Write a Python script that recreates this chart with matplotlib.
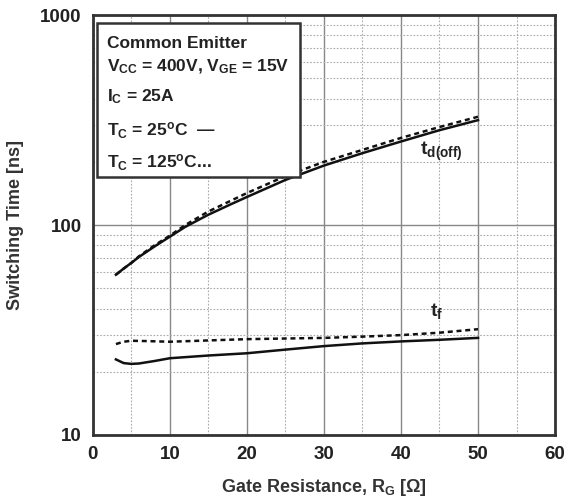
## Switching time vs gate resistance

import matplotlib.pyplot as plt
from matplotlib.patches import Rectangle
from matplotlib.ticker import MultipleLocator, LogLocator, NullFormatter
import numpy as np

plt.rcParams['font.family'] = ['Liberation Sans', 'DejaVu Sans']
plt.rcParams['font.weight'] = 'bold'
plt.rcParams['mathtext.fontset'] = 'custom'
plt.rcParams['mathtext.rm'] = 'Liberation Sans:bold'
plt.rcParams['mathtext.bf'] = 'Liberation Sans:bold'
plt.rcParams['mathtext.default'] = 'rm'

## data
rg_d      = [3, 4, 5, 6, 8, 10, 12, 15, 18, 20, 25, 30, 35, 40, 45, 50]
td_25     = [58, 62, 66, 70.5, 79, 88, 98, 112, 126, 136, 164, 192, 220, 250, 283, 316]
td_125    = [58, 62, 66, 71, 80, 89, 100, 116, 131, 142, 171, 200, 228, 260, 293, 328]
rg_f25    = [3, 4, 5, 6, 8, 10, 15, 20, 25, 30, 35, 40, 45, 50]
tf_25     = [22.9, 22.0, 21.8, 21.9, 22.5, 23.2, 23.9, 24.5, 25.5, 26.5, 27.3, 27.9, 28.4, 29.0]
rg_f125   = [3, 4, 5, 7, 10, 15, 20, 25, 30, 35, 40, 45, 50]
tf_125    = [27.1, 27.8, 28.1, 28.0, 27.8, 28.2, 28.6, 28.8, 29.0, 29.4, 29.9, 30.7, 31.9]

fig = plt.figure(figsize=(5.8, 5.04), dpi=100)
ax = fig.add_axes([0.160, 0.137, 0.797, 0.833])

ax.plot(rg_d, td_25, color='#111111', lw=1.8)
ax.plot(rg_d, td_125, color='#111111', lw=1.8, dashes=(2, 1.5))
ax.plot(rg_f25, tf_25, color='#111111', lw=1.8)
ax.plot(rg_f125, tf_125, color='#111111', lw=1.8, dashes=(2, 1.5))

ax.set_yscale('log')
ax.set_xlim(0, 60)
ax.set_ylim(10, 1000)
ax.xaxis.set_major_locator(MultipleLocator(10))
ax.xaxis.set_minor_locator(MultipleLocator(5))
ax.yaxis.set_major_locator(LogLocator(base=10))
ax.yaxis.set_minor_locator(LogLocator(base=10, subs=np.arange(2, 10)))
ax.yaxis.set_minor_formatter(NullFormatter())
ax.set_yticks([10, 100, 1000], ['10', '100', '1000'])

ax.grid(which='major', color='#888888', lw=1.0, ls='-')
ax.grid(which='minor', color='#aaaaaa', lw=0.8, ls=(0, (1.5, 1.5)))
ax.tick_params(which='both', length=0, labelsize=13.5, colors='#222222', pad=8)
for s in ax.spines.values():
    s.set_linewidth(2)
    s.set_color('#333333')

ax.set_xlabel(r'Gate Resistance, R$_G$ [$\Omega$]', fontsize=13, color='#333333',
              labelpad=10, fontweight='bold')
ax.set_ylabel('Switching Time [ns]', fontsize=13, color='#333333',
              labelpad=12, fontweight='bold')

ax.text(42.5, 215, r't$_{d(off)}$', fontsize=14, color='#222222')
ax.text(43.8, 37, r't$_f$', fontsize=14, color='#222222')

## condition box
ax.add_patch(Rectangle((0.009, 0.614), 0.439, 0.367, transform=ax.transAxes,
                       facecolor='white', edgecolor='#333333', lw=1.8, zorder=5))
lines = ['Common Emitter',
         r'V$_{CC}$ = 400V, V$_{GE}$ = 15V',
         r'I$_C$ = 25A',
         r'T$_C$ = 25$^o$C  —',
         r'T$_C$ = 125$^o$C...']
ys = [0.933, 0.876, 0.805, 0.726, 0.648]
for t, y in zip(lines, ys):
    ax.text(0.03, y, t, transform=ax.transAxes, fontsize=12.5, color='#222222',
            va='center', zorder=6)

fig.savefig('out.png', dpi=100)
